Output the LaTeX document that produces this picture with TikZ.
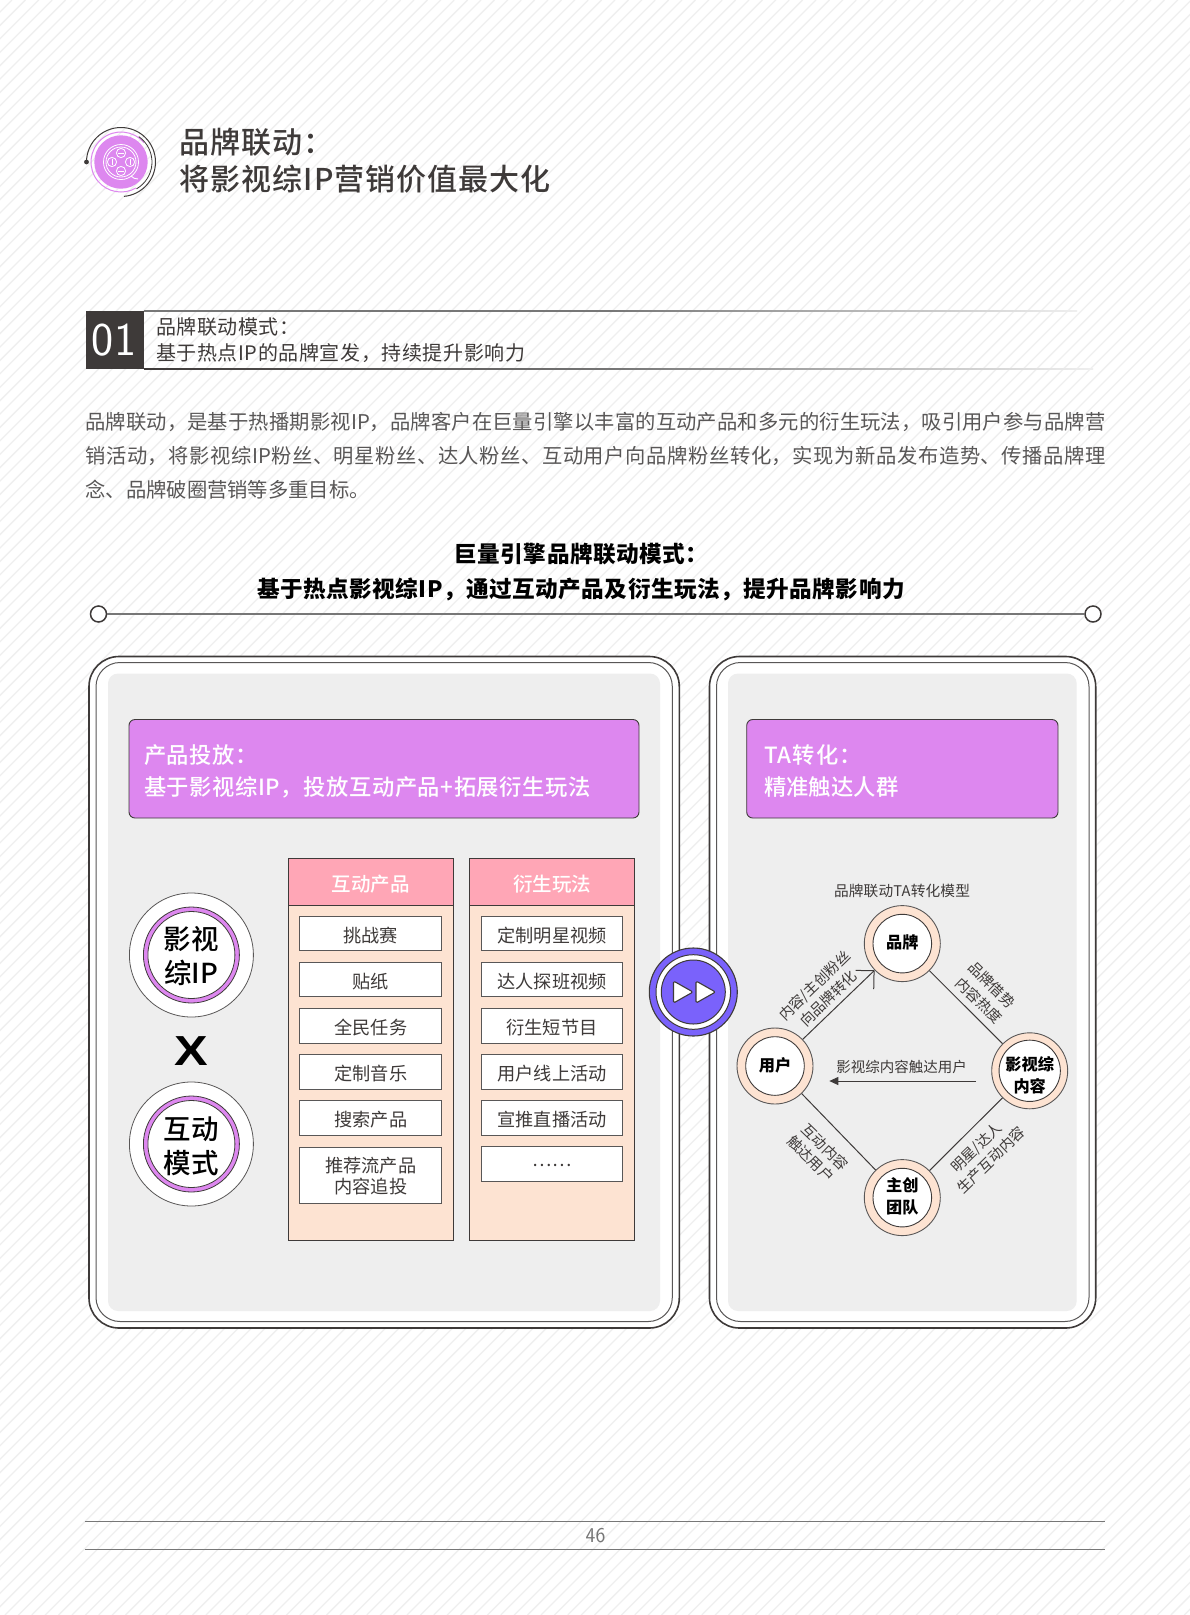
\documentclass[tikz,border=0pt]{standalone}
\usepackage{fontspec}
\setmainfont{Noto Sans CJK SC}
\newfontfamily\arialf{Liberation Sans}
\newfontfamily\medf{Noto Sans CJK SC Medium}
\usetikzlibrary{arrows.meta,shapes.geometric}
\XeTeXlinebreaklocale "zh"
\XeTeXlinebreakskip=0pt plus 1.5pt minus 0.4pt
\definecolor{dk}{HTML}{3E3A39}
\definecolor{txt}{HTML}{595757}
\definecolor{rulegray}{HTML}{777777}
\definecolor{hatch}{HTML}{EFEFEF}
\definecolor{pur}{HTML}{DD87EF}
\definecolor{pinkh}{HTML}{FFA6B6}
\definecolor{peach}{HTML}{FDE3D2}
\definecolor{panel}{HTML}{EEEEEE}
\definecolor{play}{HTML}{7A62FB}
\newcommand{\pxf}[2]{\fontsize{#1}{#2}\selectfont}
\newcommand{\fx}[1]{\addfontfeature{LetterSpace=#1}}
\newcommand{\dn}[2]{\raisebox{-#1}[\height][\depth]{#2}}
\newcommand{\jline}[1]{\parbox{1020pt}{\parfillskip=0pt #1}}
\tikzset{
  txtnode/.style={inner sep=0pt,outer sep=0pt},
  itembox/.style={draw=txt,line width=1pt,fill=white,minimum width=141.7pt,minimum height=34.5pt,inner sep=0pt,align=center,text=dk,font=\pxf{18.2}{21.5}},
  headbox/.style={draw=dk,line width=1pt,fill=pinkh,minimum width=165.4pt,minimum height=47.4pt,inner sep=0pt,text=white,font=\medf\pxf{19.5}{24}},
  bodybox/.style={draw=dk,line width=1pt,fill=peach,minimum width=165.4pt,minimum height=334.3pt,inner sep=0pt},
  purbox/.style={draw=dk,line width=0.9pt,fill=pur,rounded corners=6pt,inner sep=0pt},
  bigouter/.style={circle,draw=txt,line width=0.8pt,fill=white,minimum size=124pt,inner sep=0pt},
  bigring/.style={circle,draw=dk,line width=0.8pt,fill=pur,minimum size=96pt,inner sep=0pt},
  biginner/.style={circle,draw=dk,line width=0.8pt,fill=white,minimum size=87pt,inner sep=0pt,align=center,font=\medf\pxf{27.5}{34},text=black},
  ringout/.style={circle,draw=txt,line width=0.9pt,fill=peach,minimum size=76pt,inner sep=0pt},
  ringin/.style={circle,draw=dk,line width=0.9pt,fill=white,minimum size=58.6pt,inner sep=0pt,align=center,font=\bfseries\pxf{16.2}{22},text=black},
  conn/.style={draw=dk,line width=1pt},
  rotlab/.style={txtnode,text=dk,font=\pxf{14.5}{17}},
  outerframe/.style={draw=dk,line width=1.6pt,fill=white,rounded corners=30pt},
  innerframe/.style={draw=txt,line width=1pt,rounded corners=24pt},
  grayframe/.style={fill=panel,rounded corners=10pt},
  tri/.style={draw=dk,line width=1.1pt,fill=white,line join=round,rounded corners=1.5pt}
}
\begin{document}
\begin{tikzpicture}[x=1pt,y=-1pt]
\useasboundingbox (0,0) rectangle (1190,1615);
\fill[white] (0,0) rectangle (1190,1615);
% hatching
\begin{scope}
\clip (0,0) rectangle (1190,1615);
\foreach \k in {0,...,210}{
  \draw[hatch,line width=1.3pt] ({\k*13.4+12},0) -- ({\k*13.4+12-1615},1615);
}
\end{scope}
% icon
\begin{scope}[shift={(121,162)},yscale=-1]
  \fill[pur] (0,0) circle[radius=26.7];
  \draw[pur,line width=1pt] (40:30) arc[start angle=40,end angle=300,radius=30];
  \draw[dk,line width=1pt] (180:34.5) arc[start angle=180,end angle=-85,radius=34.5];
  \draw[dk,line width=0.8pt] (55:31) arc[start angle=55,end angle=-60,radius=31];
  \fill[dk] (180:34.5) circle[radius=2.4];
  \draw[white,line width=0.8pt] (0,0) circle[radius=17.5];
  \draw[white,line width=0.8pt] (0,0) circle[radius=15];
  \foreach \a in {0,90,180,270}{
    \draw[white,line width=0.8pt] (\a:9) circle[radius=4.6];
  }
  \draw[white,line width=0.8pt] (-3,9) -- (3,9) (-3,-9) -- (3,-9) (9,-3) -- (9,3) (-9,-3) -- (-9,3);
  \draw[white,line width=0.9pt] (10,-14) .. controls (12,-16) and (14,-17) .. (17,-17);
\end{scope}
% title
\node[txtnode,anchor=west,text=dk,font=\medf\pxf{30}{36}\fx{3.5}] (t1) at (179.5,142.5) {品牌联动：};
\node[txtnode,anchor=west,text=dk,font=\medf\pxf{30}{36}\fx{3.5}] (t2) at (179.5,179.5) {将影视综IP营销价值最大化};
% section bar
\fill[dk] (86,310.5) rectangle (144,368.5);
\shade[left color=rulegray,right color=hatch,middle color=rulegray] (144,310) rectangle (1077,311.2);
\shade[left color=dk,right color=hatch,middle color=rulegray] (144,368) rectangle (1093,369.2);
\node[txtnode,text=white,font=\sffamily\pxf{47}{50}\fx{-7}] (num) at (114,340) {01};
\node[txtnode,anchor=west,text=dk,font=\pxf{20}{24}\fx{3}] (s1) at (156,327) {品牌联动模式：};
\node[txtnode,anchor=west,text=dk,font=\pxf{20}{24}\fx{3}] (s2) at (156,353) {基于热点IP的品牌宣发，持续提升影响力};
% paragraph
\node[txtnode,anchor=west,text=txt,font=\pxf{20.3}{24}] (p1) at (85.5,421.5) {\jline{品牌联动，是基于热播期影视IP，品牌客户在巨量引擎以丰富的互动产品和多元的衍生玩法，吸引用户参与品牌营}};
\node[txtnode,anchor=west,text=txt,font=\pxf{20.3}{24}] (p2) at (85.5,455.5) {\jline{销活动，将影视综IP粉丝、明星粉丝、达人粉丝、互动用户向品牌粉丝转化，实现为新品发布造势、传播品牌理}};
\node[txtnode,anchor=west,text=txt,font=\pxf{20.3}{24}] (p3) at (85.5,489.5) {念、品牌破圈营销等多重目标。};
% heading
\node[txtnode,text=black,font=\bfseries\pxf{22.6}{27}\fx{2.2}] (h1) at (581.5,554) {巨量引擎品牌联动模式：};
\node[txtnode,text=black,font=\bfseries\pxf{22.6}{27}\fx{2.2}] (h2) at (581,589.5) {基于热点影视综IP，通过互动产品及衍生玩法，提升品牌影响力};
% divider
\node[circle,draw=dk,line width=1.5pt,fill=white,minimum size=16pt,inner sep=0pt] (d1) at (98.5,614) {};
\node[circle,draw=dk,line width=1.5pt,fill=white,minimum size=16pt,inner sep=0pt] (d2) at (1093,614) {};
\draw[rulegray,line width=1.3pt] (d1) -- (d2);
% left panel
\draw[outerframe] (89,656.5) rectangle (679.3,1328);
\draw[innerframe] (96,662.5) rectangle (672.3,1321.5);
\fill[grayframe] (108,673.5) rectangle (660,1311);
% right panel
\draw[outerframe] (709.5,656.5) rectangle (1095.7,1328);
\draw[innerframe] (716.5,662.5) rectangle (1089,1321.5);
\fill[grayframe] (728,673.5) rectangle (1076.7,1311);
% purple headers
\draw[purbox] (129,719.5) rectangle (639,818);
\draw[purbox] (746.7,719.5) rectangle (1058,818);
\node[txtnode,anchor=west,text=white,font=\medf\pxf{22.3}{26}\fx{2.5}] (lh1) at (144,755) {产品投放：};
\node[txtnode,anchor=west,text=white,font=\medf\pxf{22.3}{26}\fx{2.5}] (lh2) at (144,787.5) {基于影视综IP，投放互动产品+拓展衍生玩法};
\node[txtnode,anchor=west,text=white,font=\medf\pxf{22.3}{26}\fx{5}] (rh1) at (764,755) {TA转化：};
\node[txtnode,anchor=west,text=white,font=\medf\pxf{22.3}{26}\fx{0.5}] (rh2) at (764,787.5) {精准触达人群};
% left circles
\node[bigouter] (c1o) at (191.4,955) {};
\node[bigring] (c1r) at (c1o) {};
\node[biginner] (c1i) at (c1o) {\dn{1pt}{影视}\\\dn{1pt}{综IP}};
\node[bigouter] (c2o) at (191.4,1144) {};
\node[bigring] (c2r) at (c2o) {};
\node[biginner] (c2i) at (c2o) {\dn{2pt}{互动}\\\dn{2pt}{模式}};
\node[txtnode,text=black,font=\arialf\bfseries\pxf{42}{48},xscale=1.2,transform shape] (xx) at (191,1051.5) {X};
% tables
\node[bodybox] (tb1) at (370.7,1073) {};
\node[bodybox] (tb2) at (552,1073) {};
\node[headbox] (th1) at (370.7,882) {\dn{2pt}{互动产品}};
\node[headbox] (th2) at (552,882) {\dn{2pt}{衍生玩法}};
\node[itembox] (a1) at (370.8,933.5) {\dn{2pt}{挑战赛}};
\node[itembox] (a2) at (370.8,979.7) {\dn{2pt}{贴纸}};
\node[itembox] (a3) at (370.8,1026) {\dn{2pt}{全民任务}};
\node[itembox] (a4) at (370.8,1072) {\dn{2pt}{定制音乐}};
\node[itembox] (a5) at (370.8,1118) {\dn{2pt}{搜索产品}};
\node[itembox,minimum height=56.3pt] (a6) at (370.8,1175.2) {\dn{1pt}{推荐流产品}\\\dn{1pt}{内容追投}};
\node[itembox] (b1) at (552,933.5) {\dn{2pt}{定制明星视频}};
\node[itembox] (b2) at (552,979.7) {\dn{2pt}{达人探班视频}};
\node[itembox] (b3) at (552,1026) {\dn{2pt}{衍生短节目}};
\node[itembox] (b4) at (552,1072) {\dn{2pt}{用户线上活动}};
\node[itembox] (b5) at (552,1118) {\dn{2pt}{宣推直播活动}};
\node[itembox] (b6) at (552,1164.2) {\dn{1pt}{……}};
% play button
\node[circle,draw=dk,line width=1.1pt,fill=play,minimum size=88pt,inner sep=0pt] (pl1) at (693.3,992) {};
\node[circle,draw=dk,line width=1pt,fill=white,minimum size=74.6pt,inner sep=0pt] (pl2) at (pl1) {};
\node[circle,draw=dk,line width=1pt,fill=play,minimum size=64pt,inner sep=0pt] (pl3) at (pl1) {};
\draw[tri] (673.5,981) -- (693,992) -- (673.5,1003) -- cycle;
\draw[tri] (696,981) -- (715.5,992) -- (696,1003) -- cycle;
% TA model
\node[txtnode,text=dk,font=\pxf{14.7}{18}\fx{1}] (mt) at (902,890.5) {品牌联动TA转化模型};
\node[ringout] (nb) at (902.3,943.6) {};
\node[ringout] (nu) at (775,1066) {};
\node[ringout] (nc) at (1029.7,1070.8) {};
\node[ringout] (nt) at (902.3,1197.6) {};
\node[ringin] (nbi) at (nb) {\raisebox{1pt}[\height][\depth]{品牌}};
\node[ringin] (nui) at (nu) {\raisebox{1pt}[\height][\depth]{用户}};
\node[ringin] (nci) at (nc) {\dn{4pt}{影视综}\\\dn{4pt}{内容}};
\node[ringin] (nti) at (nt) {\raisebox{1pt}[\height][\depth]{主创}\\\raisebox{1.5pt}[\height][\depth]{团队}};
\draw[conn] (nb) -- (nc);
\draw[conn] (nc) -- (nt);
\draw[conn] (nt) -- (nu);
\draw[conn,-{Straight Barb[length=13pt,width=26pt,line width=1pt]}] (nu) -- (nb);
\coordinate (ha) at (976,1081);
\coordinate (hb) at (829.3,1081);
\draw[conn,-{Triangle[length=9pt,width=8pt]}] (ha) -- (hb);
\node[rotlab] (l0) at (901.7,1067) {影视综内容触达用户};
\node[rotlab,rotate=44] (l1) at (815,986) {内容/主创粉丝};
\node[rotlab,rotate=44] (l2) at (828.3,998.3) {向品牌转化};
\node[rotlab,rotate=-44] (l3) at (991.7,985) {品牌借势};
\node[rotlab,rotate=-44] (l4) at (979,1000.5) {内容热度};
\node[rotlab,rotate=44] (l5) at (976.7,1148) {明星/达人};
\node[rotlab,rotate=44] (l6) at (991,1160) {生产互动内容};
\node[rotlab,rotate=-44] (l7) at (825,1147) {互动内容};
\node[rotlab,rotate=-44] (l8) at (810.7,1159) {触达用户};
% footer
\draw[rulegray,line width=1.1pt] (85,1521.3) -- (1104.7,1521.3);
\draw[rulegray,line width=1.1pt] (85,1549.3) -- (1104.7,1549.3);
\node[txtnode,text=rulegray,font=\sffamily\pxf{21}{24}] (pg) at (595.5,1535.5) {46};
\end{tikzpicture}
\end{document}
